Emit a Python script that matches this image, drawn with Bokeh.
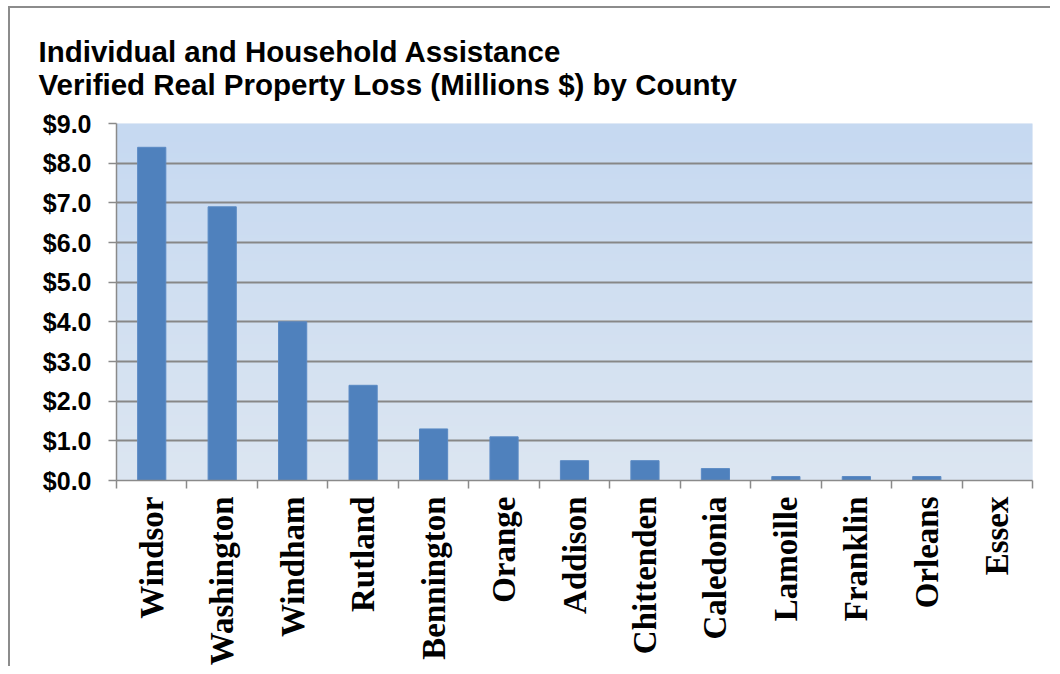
import math
import numpy as np
from bokeh.plotting import figure
from bokeh.models import FixedTicker, NumeralTickFormatter, Range1d
from bokeh.embed import file_html
from bokeh.resources import INLINE

counties = ["Windsor", "Washington", "Windham", "Rutland", "Bennington", "Orange",
            "Addison", "Chittenden", "Caledonia", "Lamoille", "Franklin", "Orleans", "Essex"]
loss_millions = [8.4, 6.9, 4.0, 2.4, 1.3, 1.1, 0.5, 0.5, 0.3, 0.1, 0.1, 0.1, 0.0]
y_ticks = [0, 1, 2, 3, 4, 5, 6, 7, 8, 9]
title_lines = ["Individual and Household Assistance",
               "Verified Real Property Loss (Millions $) by County"]

n = len(counties)
centers = [i + 0.5 for i in range(n)]
bounds = list(range(n + 1))

W, H = 1042, 660
p = figure(width=W, height=H, output_backend="svg", toolbar_location=None,
           x_range=Range1d(0, n), y_range=Range1d(0, 9),
           min_border_left=106, min_border_right=20, min_border_top=115, min_border_bottom=188)
p.styles = {"margin-left": "8px", "margin-top": "6px",
            "border-left": "2px solid #8c8c8c", "border-top": "2px solid #8c8c8c"}

# gradient plot-area background
top = np.array([0xc6, 0xd9, 0xf1], dtype=float)
bot = np.array([0xdc, 0xe6, 0xf2], dtype=float)
rows = 200
img = np.empty((rows, 1), dtype=np.uint32)
view = img.view(dtype=np.uint8).reshape((rows, 1, 4))
for r in range(rows):
    t = r / (rows - 1)
    c = bot * (1 - t) + top * t
    view[r, 0, 0:3] = c.astype(np.uint8)
    view[r, 0, 3] = 255
p.image_rgba(image=[img], x=0, y=0, dw=n, dh=9, level="image")

p.vbar(x=centers, top=loss_millions, width=0.4, fill_color="#4f81bd", line_color="#5b8ac4",
       line_width=1)

p.title.text = "\n".join(title_lines)
p.title.text_font = "Liberation Sans"
p.title.text_font_style = "bold"
p.title.text_font_size = "29.5px"
p.title.text_line_height = 1.01
p.title.align = "left"
p.title.offset = -78
p.title.standoff = 44
p.title.text_color = "black"

p.outline_line_color = None
p.background_fill_color = "#d1dff2"

# grid
p.xgrid.grid_line_color = None
p.ygrid.ticker = FixedTicker(ticks=y_ticks)
p.ygrid.grid_line_color = "#878787"
p.ygrid.grid_line_width = 2

# y axis
p.yaxis.ticker = FixedTicker(ticks=y_ticks)
p.yaxis.formatter = NumeralTickFormatter(format="$0.0")
p.yaxis.major_label_text_font = "Liberation Sans"
p.yaxis.major_label_text_font_style = "bold"
p.yaxis.major_label_text_font_size = "25px"
p.yaxis.major_label_text_color = "black"
p.yaxis.axis_line_color = "#8a8a8a"
p.yaxis.axis_line_width = 1.5
p.yaxis.major_tick_line_color = "#8a8a8a"
p.yaxis.major_tick_line_width = 1.5
p.yaxis.major_tick_out = 8
p.yaxis.major_tick_in = 0
p.yaxis.minor_tick_line_color = None
p.yaxis.major_label_standoff = 17

# x axis
p.xaxis.ticker = FixedTicker(ticks=centers, minor_ticks=bounds)
p.xaxis.major_label_overrides = {c: name for c, name in zip(centers, counties)}
p.xaxis.major_label_orientation = math.pi / 2
p.xaxis.major_label_text_font = "Liberation Serif"
p.xaxis.major_label_text_font_style = "bold"
p.xaxis.major_label_text_font_size = "33px"
p.xaxis.major_label_text_color = "black"
p.xaxis.major_tick_line_color = None
p.xaxis.minor_tick_line_color = "#8a8a8a"
p.xaxis.minor_tick_line_width = 1.5
p.xaxis.minor_tick_out = 8
p.xaxis.minor_tick_in = 0
p.xaxis.axis_line_color = "#8a8a8a"
p.xaxis.axis_line_width = 1.5
p.xaxis.major_label_standoff = 8

open("out.html", "w").write(file_html(p, INLINE))
